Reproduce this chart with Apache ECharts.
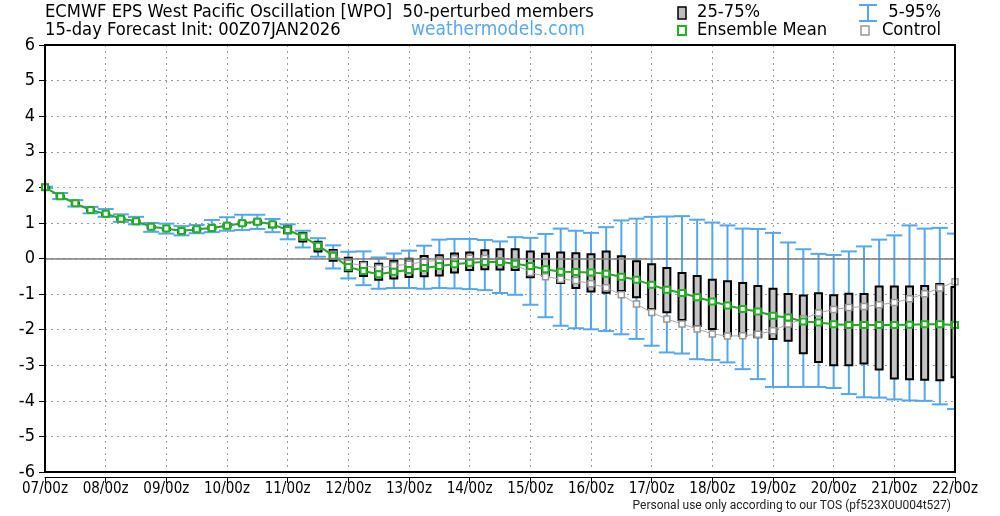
<!DOCTYPE html>
<html>
<head>
<meta charset="utf-8">
<script src="https://cdn.jsdelivr.net/npm/echarts@6/dist/echarts.min.js"></script>
<style>
html,body{margin:0;padding:0;background:#fff;}
#chart{width:1000px;height:516px;}
</style>
</head>
<body>
<div id="chart"></div>
<script>
// forecast step (hours since init)
const hours = [0,6,12,18,24,30,36,42,48,54,60,66,72,78,84,90,96,102,108,114,120,126,132,138,144,150,156,162,168,174,180,186,192,198,204,210,216,222,228,234,240,246,252,258,264,270,276,282,288,294,300,306,312,318,324,330,336,342,348,354,360];
const xTickLabels = ['07/00z','08/00z','09/00z','10/00z','11/00z','12/00z','13/00z','14/00z','15/00z','16/00z','17/00z','18/00z','19/00z','20/00z','21/00z','22/00z'];
const yTickLabels = ['-6','-5','-4','-3','-2','-1','0','1','2','3','4','5','6'];
// 5th percentile
const p05 = [1.98,1.67,1.46,1.27,1.17,1.03,0.96,0.75,0.7,0.65, 0.71,0.74,0.78,0.8,0.83,0.74,0.54,0.31,0.05,-0.28, -0.56,-0.75,-0.85,-0.83,-0.83,-0.85,-0.83,-0.84,-0.86,-0.89, -0.97,-1.02,-1.3,-1.65,-1.89,-1.96,-1.99,-2.04,-2.13,-2.26, -2.45,-2.64,-2.67,-2.83,-2.85,-2.92,-3.11,-3.39,-3.61,-3.61, -3.61,-3.61,-3.64,-3.81,-3.9,-3.91,-3.96,-3.99,-4.0,-4.1, -4.23];
// 25th percentile
const q25 = [1.97,1.72,1.52,1.33,1.23,1.09,1.01,0.85,0.8,0.73, 0.78,0.82,0.87,0.94,0.97,0.88,0.71,0.48,0.2,-0.06, -0.36,-0.49,-0.6,-0.56,-0.52,-0.5,-0.48,-0.39,-0.32,-0.3, -0.31,-0.32,-0.53,-0.48,-0.69,-0.83,-0.93,-0.96,-0.91,-1.09, -1.42,-1.51,-1.73,-1.9,-1.98,-2.17,-2.17,-2.21,-2.26,-2.31, -2.66,-2.91,-3.0,-3.0,-2.95,-3.12,-3.37,-3.39,-3.41,-3.42, -3.34];
// 75th percentile
const q75 = [2.01,1.77,1.57,1.38,1.28,1.14,1.07,0.91,0.86,0.8, 0.85,0.9,0.96,1.03,1.07,1.0,0.9,0.72,0.47,0.24, 0.02,-0.1,-0.15,-0.06,-0.01,0.07,0.09,0.14,0.17,0.23, 0.26,0.26,0.2,0.13,0.17,0.15,0.12,0.2,0.06,-0.08, -0.16,-0.27,-0.41,-0.49,-0.6,-0.64,-0.69,-0.77,-0.85,-1.0, -1.04,-0.98,-1.03,-0.99,-1.0,-0.79,-0.79,-0.79,-0.77,-0.72, -0.8];
// 95th percentile
const p95 = [2.02,1.84,1.64,1.45,1.39,1.24,1.17,1.0,0.98,0.91, 0.94,1.08,1.16,1.23,1.23,1.11,0.96,0.78,0.57,0.37, 0.19,0.2,0.03,0.14,0.22,0.36,0.53,0.55,0.55,0.52, 0.48,0.6,0.58,0.69,0.84,0.78,0.72,0.88,1.07,1.12, 1.17,1.18,1.19,1.09,1.01,0.93,0.84,0.83,0.72,0.45, 0.26,0.13,0.1,0.2,0.34,0.53,0.65,0.93,0.84,0.86, 0.7];
// control run
const ctrl = [2.0,1.75,1.55,1.37,1.26,1.12,1.05,0.89,0.84,0.77, 0.82,0.87,0.93,1.0,1.04,0.95,0.79,0.61,0.35,0.12, -0.13,-0.2,-0.27,-0.2,-0.16,-0.09,-0.05,-0.01,0.01,0.0, -0.06,-0.17,-0.39,-0.51,-0.58,-0.62,-0.71,-0.82,-1.02,-1.28, -1.52,-1.7,-1.84,-1.98,-2.12,-2.18,-2.17,-2.13,-2.03,-1.84, -1.7,-1.53,-1.43,-1.38,-1.35,-1.3,-1.24,-1.13,-0.99,-0.83, -0.65];
// ensemble mean
const mean = [2.0,1.75,1.55,1.36,1.26,1.12,1.05,0.89,0.84,0.77, 0.82,0.86,0.92,0.99,1.03,0.96,0.8,0.62,0.36,0.08, -0.24,-0.35,-0.44,-0.37,-0.32,-0.27,-0.21,-0.16,-0.12,-0.1, -0.1,-0.15,-0.21,-0.3,-0.37,-0.38,-0.39,-0.43,-0.51,-0.6, -0.74,-0.88,-0.97,-1.09,-1.21,-1.32,-1.42,-1.49,-1.61,-1.66, -1.77,-1.8,-1.85,-1.87,-1.87,-1.87,-1.87,-1.86,-1.85,-1.85, -1.87];

const FONT = '"DejaVu Sans Condensed","Liberation Sans Narrow","DejaVu Sans",sans-serif';
const BLUE = '#52a7ef';
const GREEN = '#2aa52a';

const boxData = hours.map((h,i)=>[h,p05[i],q25[i],q75[i],p95[i]]);
const ctrlData = hours.map((h,i)=>[h,ctrl[i]]);
const meanData = hours.map((h,i)=>[h,mean[i]]);

function renderBox(params, api){
  const t = api.value(0);
  const lo = api.coord([t, api.value(1)]);
  const b1 = api.coord([t, api.value(2)]);
  const b2 = api.coord([t, api.value(3)]);
  const hi = api.coord([t, api.value(4)]);
  const x = lo[0];
  const capW = 8, boxW = 3.5;
  const ls = {stroke: BLUE, lineWidth: 2};
  return {type:'group', children:[
    {type:'line', shape:{x1:x,y1:hi[1],x2:x,y2:lo[1]}, style:ls},
    {type:'line', shape:{x1:x-capW,y1:hi[1],x2:x+capW,y2:hi[1]}, style:ls},
    {type:'line', shape:{x1:x-capW,y1:lo[1],x2:x+capW,y2:lo[1]}, style:ls},
    {type:'rect', shape:{x:x-boxW,y:b2[1],width:2*boxW,height:Math.max(b1[1]-b2[1],1)}, style:{fill:'#c4c4c4',stroke:'#000',lineWidth:2}}
  ]};
}

const chart = echarts.init(document.getElementById('chart'), null, {renderer:'canvas'});
const gridSplit = {show:true, lineStyle:{color:'#9a9a9a', width:1, type:[2,4]}};

chart.setOption({
  animation:false,
  backgroundColor:'#fff',
  grid:{left:45, right:45, top:45, bottom:44, show:true, borderColor:'#000', borderWidth:2, backgroundColor:'transparent', z:10},
  xAxis:{type:'value', min:0, max:360, interval:24, offset:5,
    axisLine:{show:true, onZero:false, lineStyle:{color:'#000', width:1}},
    axisTick:{show:true, length:6, lineStyle:{color:'#000', width:1}},
    axisLabel:{margin:5, color:'#000', fontSize:15, fontFamily:FONT, formatter:(v)=>xTickLabels[Math.round(v/24)]},
    splitLine:gridSplit},
  yAxis:{type:'value', min:-6, max:6, interval:1,
    axisLine:{show:true, lineStyle:{color:'#000', width:2}},
    axisTick:{show:true, length:6, lineStyle:{color:'#000', width:1}},
    axisLabel:{margin:10, color:'#000', fontSize:18, fontFamily:FONT, formatter:(v)=>yTickLabels[Math.round(v+6)]},
    splitLine:gridSplit},
  graphic:[
    {type:'text', left:45, top:3, style:{text:'ECMWF EPS West Pacific Oscillation [WPO]  50-perturbed members', fontSize:18.2, fontFamily:FONT, fill:'#000'}},
    {type:'text', left:45, top:21, style:{text:'15-day Forecast Init: 00Z07JAN2026', fontSize:18.2, fontFamily:FONT, fill:'#000'}},
    {type:'text', left:411, top:21, style:{text:'weathermodels.com', fontSize:19, fontFamily:FONT, fill:'#58a8ee'}},
    {type:'rect', shape:{x:678, y:7, width:8, height:12}, style:{fill:'#bdbdbd', stroke:'#000', lineWidth:1.5}},
    {type:'text', left:697, top:3, style:{text:'25-75%', fontSize:18.2, fontFamily:FONT, fill:'#000'}},
    {type:'line', shape:{x1:868, y1:5, x2:868, y2:21}, style:{stroke:BLUE, lineWidth:2}},
    {type:'line', shape:{x1:859, y1:5, x2:877, y2:5}, style:{stroke:BLUE, lineWidth:2}},
    {type:'line', shape:{x1:859, y1:21, x2:877, y2:21}, style:{stroke:BLUE, lineWidth:2}},
    {type:'text', right:59, top:3, style:{text:'5-95%', fontSize:18.2, fontFamily:FONT, fill:'#000'}},
    {type:'rect', shape:{x:678, y:26, width:8, height:9}, style:{fill:'#fff', stroke:'#22b022', lineWidth:2}},
    {type:'text', left:697, top:21, style:{text:'Ensemble Mean', fontSize:18.2, fontFamily:FONT, fill:'#000'}},
    {type:'rect', shape:{x:861, y:26, width:8, height:9}, style:{fill:'#fff', stroke:'#999', lineWidth:1.5}},
    {type:'text', right:59, top:21, style:{text:'Control', fontSize:18.2, fontFamily:FONT, fill:'#000'}},
    {type:'text', right:49, top:500, style:{text:'Personal use only according to our TOS (pf523X0U004t527)', fontSize:12, fontFamily:'Roboto, sans-serif', fill:'#222'}}
  ],
  series:[
    {type:'line', data:[], z:1, silent:true,
      markLine:{silent:true, symbol:'none', label:{show:false}, lineStyle:{color:'#7d7d7d', width:1.5, type:'solid'}, data:[{yAxis:0}]}},
    {type:'custom', renderItem:renderBox, data:boxData, clip:true, z:2, encode:{x:0, y:[1,2,3,4]}},
    {type:'line', data:ctrlData, z:3, clip:true, symbol:'rect', symbolSize:6, showAllSymbol:true,
      lineStyle:{color:'#a8a8a8', width:1}, itemStyle:{color:'#fff', borderColor:'#979797', borderWidth:1.5}},
    {type:'line', data:meanData, z:4, clip:true, symbol:'rect', symbolSize:6, showAllSymbol:true,
      lineStyle:{color:GREEN, width:2}, itemStyle:{color:'#fff', borderColor:'#22b022', borderWidth:2}}
  ]
});
</script>
</body>
</html>
